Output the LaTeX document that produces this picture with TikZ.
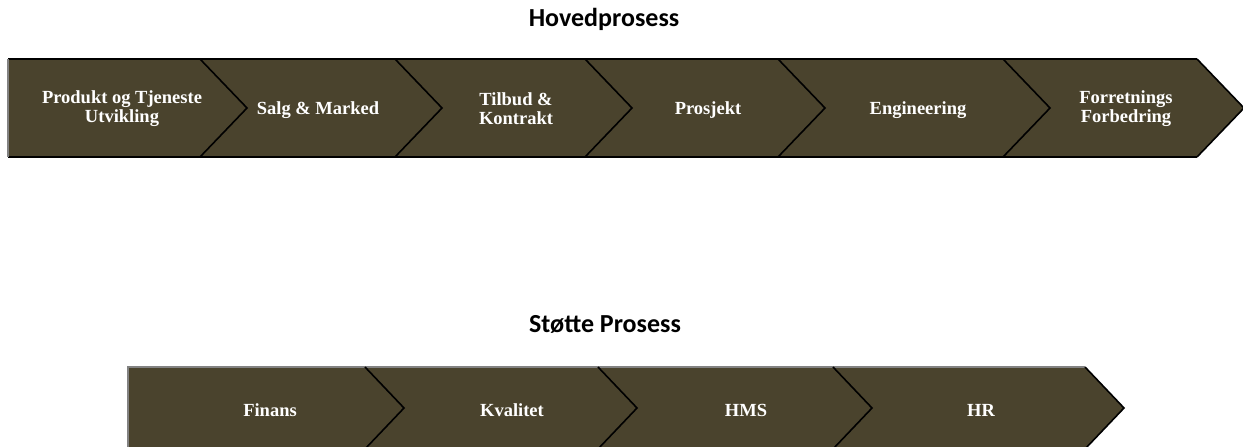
\documentclass[tikz,border=0pt]{standalone}
\usepackage{fontspec}
\setmainfont{Liberation Serif}
\newfontfamily\headfont{Carlito}
\definecolor{olive}{RGB}{74,67,45}
\definecolor{rimgray}{RGB}{130,130,130}
\tikzset{
  chev/.style={fill=olive, draw=none},
  notch/.style={draw=black, line width=1.6pt, line join=miter},
  rim/.style={draw=black, line width=2.2pt},
  softrim/.style={draw=rimgray, line width=1.6pt},
  steplabel/.style={text=white, font=\bfseries\fontsize{18.5}{19}\selectfont, align=center, inner sep=0pt},
  heading/.style={font=\headfont\bfseries\fontsize{26}{28}\selectfont, inner sep=0pt}
}
\begin{document}
\begin{tikzpicture}[x=1pt, y=-1pt]
\useasboundingbox (0,0) rectangle (1243,447);
\clip (0,0) rectangle (1243,447);

% ---------- main process ----------
\node[heading] (mainhead) at (604,19) {Hovedprosess};

\def\ta{59}\def\tb{157}\def\tm{108}\def\td{47}
% chevron bodies
\path[chev] (8,\ta) -- (200,\ta) -- (200+\td,\tm) -- (200,\tb) -- (8,\tb) -- cycle;
\foreach \l/\r in {200/395, 395/585, 585/778, 778/1003, 1003/1197}{
  \path[chev] (\l,\ta) -- (\r,\ta) -- (\r+\td,\tm) -- (\r,\tb) -- (\l,\tb) -- (\l+\td,\tm) -- cycle;
}
% outer rim and separators
\draw[rim] (8,\ta) -- (1197,\ta);
\draw[rim] (8,\tb) -- (1197,\tb);
\draw[softrim] (8,\ta) -- (8,\tb);
\foreach \r in {200, 395, 585, 778, 1003, 1197}{
  \draw[notch] (\r,\ta) -- (\r+\td,\tm) -- (\r,\tb);
}

\node[steplabel] (p1) at (122,109) {Produkt og Tjeneste\\Utvikling};
\node[steplabel] (p2) at (318,110) {Salg \& Marked};
\node[steplabel] (p3) at (516,109) {Tilbud \&\\Kontrakt};
\node[steplabel] (p4) at (708,110) {Prosjekt};
\node[steplabel] (p5) at (918,110) {Engineering};
\node[steplabel] (p6) at (1126,109) {Forretnings\\Forbedring};

% ---------- support process ----------
\node[heading] (supphead) at (605,324) {Støtte Prosess};

\def\ba{367}\def\bb{449}\def\bm{408}\def\bd{39}
\path[chev] (128,\ba) -- (365,\ba) -- (365+\bd,\bm) -- (365,\bb) -- (128,\bb) -- cycle;
\foreach \l/\r in {365/598, 598/833, 833/1085}{
  \path[chev] (\l,\ba) -- (\r,\ba) -- (\r+\bd,\bm) -- (\r,\bb) -- (\l,\bb) -- (\l+\bd,\bm) -- cycle;
}
\draw[softrim] (128,\bb) -- (128,\ba) -- (1085,\ba);
\foreach \r in {365, 598, 833, 1085}{
  \draw[notch] (\r,\ba) -- (\r+\bd,\bm) -- (\r,\bb);
}

\node[steplabel] (s1) at (270,410) {Finans};
\node[steplabel] (s2) at (512,410) {Kvalitet};
\node[steplabel] (s3) at (746,410) {HMS};
\node[steplabel] (s4) at (981,410) {HR};
\end{tikzpicture}
\end{document}
